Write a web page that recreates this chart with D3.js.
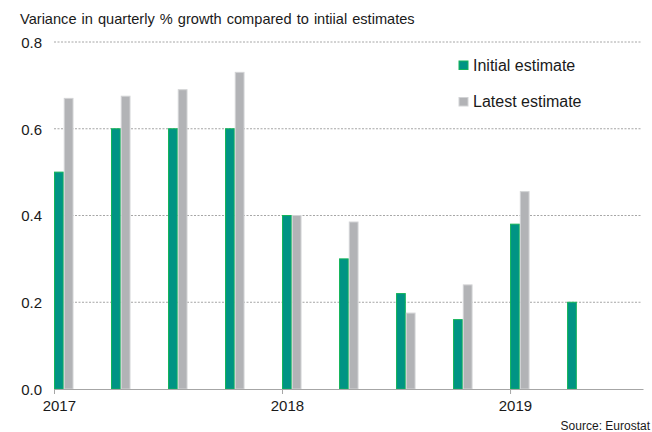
<!DOCTYPE html>
<html>
<head>
<meta charset="utf-8">
<script src="https://cdn.jsdelivr.net/npm/d3@7"></script>
<style>
  body { margin: 0; background: #fff; }
  text { font-family: "Liberation Sans", Arial, sans-serif; fill: #1a1a1a; }
</style>
</head>
<body>
<div id="container"></div>
<script>
/**
 * CONSTANTS AND DATA
 * */
const width = 652,
  height = 432;

const quarters = ["2017Q1", "2017Q2", "2017Q3", "2017Q4", "2018Q1", "2018Q2", "2018Q3", "2018Q4", "2019Q1", "2019Q2"];
const initialEstimate = [0.50, 0.60, 0.60, 0.60, 0.40, 0.30, 0.22, 0.16, 0.38, 0.20];
const latestEstimate = [0.67, 0.675, 0.69, 0.73, 0.40, 0.385, 0.175, 0.24, 0.455, null];
const yearTicks = [2017, 2018, 2019];
const yTicks = [0, 0.2, 0.4, 0.6, 0.8];
const seriesNames = ["Initial estimate", "Latest estimate"];
const colors = { fill: ["#009484", "#b2b3b6"], stroke: ["#14b45a", "#d2d3d5"] };

// quarter string -> decimal year
const qTime = (q) => +q.slice(0, 4) + (+q.slice(5) - 1) / 4;

const x = d3.scaleLinear().domain([2017, 2019.583]).range([54, 643]);
const y = d3.scaleLinear().domain([0, 0.8]).range([389, 42]);
const inner = d3.scaleBand().domain([0, 1]).range([0, 19.5]);

const svg = d3.select("#container").append("svg")
  .attr("width", width)
  .attr("height", height);

// title
svg.append("text")
  .attr("x", 20).attr("y", 24)
  .attr("font-size", 14.6)
  .attr("word-spacing", 1)
  .text("Variance in quarterly % growth compared to intiial estimates");

// gridlines (dashed)
svg.append("g")
  .selectAll("line")
  .data(yTicks.filter((d) => d > 0))
  .join("line")
  .attr("x1", 54).attr("x2", 642)
  .attr("y1", (d) => y(d)).attr("y2", (d) => y(d))
  .attr("stroke", "#8f8f8f")
  .attr("stroke-width", 0.8)
  .attr("stroke-dasharray", "2,1.5");

// y axis labels, no domain line
const yAxis = svg.append("g")
  .attr("transform", "translate(42,0)")
  .call(d3.axisLeft(y).tickValues(yTicks).tickFormat(d3.format(".1f")).tickSize(0).tickPadding(0));
yAxis.select(".domain").remove();
yAxis.selectAll("text").attr("font-size", 15).attr("font-family", null).attr("dy", "0.35em");

// bars
const rows = quarters.map((q, i) => ({ q, vals: [initialEstimate[i], latestEstimate[i]] }));
const groups = svg.append("g")
  .selectAll("g")
  .data(rows)
  .join("g")
  .attr("transform", (d) => `translate(${x(qTime(d.q))},0)`);

groups.selectAll("rect")
  .data((d) => d.vals.map((v, s) => ({ v, s })).filter((e) => e.v != null))
  .join("rect")
  .attr("x", (d) => inner(d.s) + 0.5)
  .attr("width", inner.bandwidth() - 1)
  .attr("y", (d) => y(d.v))
  .attr("height", (d) => y(0) - y(d.v))
  .attr("fill", (d) => colors.fill[d.s])
  .attr("stroke", (d) => colors.stroke[d.s])
  .attr("stroke-width", 1);

// x axis
const xAxis = svg.append("g")
  .attr("transform", `translate(0,${y(0)})`)
  .call(d3.axisBottom(x).tickValues(yearTicks).tickFormat(d3.format("d")).tickSize(5).tickSizeOuter(0).tickPadding(6));
xAxis.select(".domain").attr("stroke", "#a6a6a6");
xAxis.selectAll(".tick line").attr("stroke", "#a6a6a6");
xAxis.selectAll("text")
  .attr("font-size", 15)
  .attr("font-family", null)
  .attr("x", inner.bandwidth() / 2);

// legend
const legend = svg.append("g")
  .selectAll("g")
  .data(seriesNames)
  .join("g")
  .attr("transform", (d, i) => `translate(459,${61 + i * 36.5})`);
legend.append("rect")
  .attr("width", 9).attr("height", 8.5)
  .attr("fill", (d, i) => colors.fill[i])
  .attr("stroke", (d, i) => colors.stroke[i])
  .attr("stroke-width", 1);
legend.append("text")
  .attr("x", 14).attr("y", 9.5)
  .attr("font-size", 16)
  .text((d) => d);

// source
svg.append("text")
  .attr("x", 650).attr("y", 430)
  .attr("text-anchor", "end")
  .attr("font-size", 12)
  .text("Source: Eurostat");
</script>
</body>
</html>
